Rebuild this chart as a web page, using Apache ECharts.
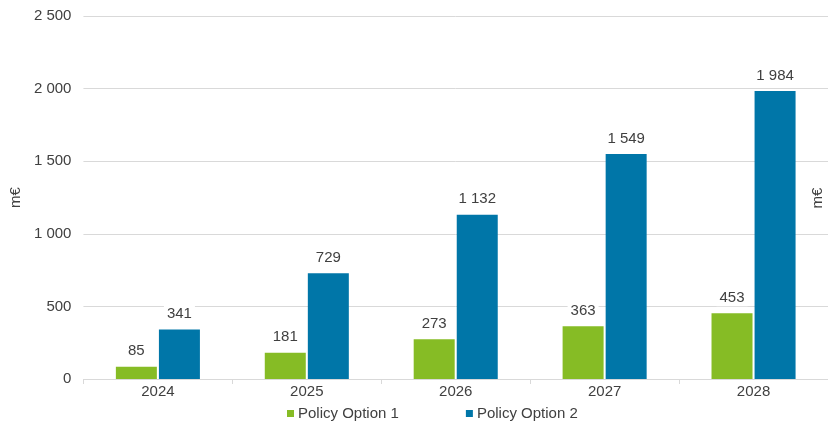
<!DOCTYPE html>
<html>
<head>
<meta charset="utf-8">
<script src="https://cdn.jsdelivr.net/npm/echarts@6/dist/echarts.min.js"></script>
<style>
  html, body { margin: 0; padding: 0; background: #fff; }
  #chart { width: 828px; height: 425px; }
</style>
</head>
<body>
<div id="chart"></div>
<script>
// Annual cost by policy option, in millions of euro
const years = ['2024', '2025', '2026', '2027', '2028'];
const option1 = [85, 181, 273, 363, 453];
const option2 = [341, 729, 1132, 1549, 1984];
const seriesNames = ['Policy Option 1', 'Policy Option 2'];
const unitLabel = 'm€';

const FONT = '"Liberation Sans", Arial, sans-serif';
const TEXT = '#404040';
const GRID = '#d9d9d9';

// Thousands separated by a space: 1984 -> "1 984"
function fmt(v) {
  return String(Math.round(v)).replace(/\B(?=(\d{3})+(?!\d))/g, ' ');
}

const labelStyle = {
  show: true,
  position: 'top',
  distance: 7,
  formatter: p => fmt(p.value),
  fontFamily: FONT,
  fontSize: 15,
  color: TEXT,
  backgroundColor: '#fff',
  padding: [1, 3]
};

const chart = echarts.init(document.getElementById('chart'), null, { renderer: 'canvas' });
chart.setOption({
  animation: false,
  textStyle: { fontFamily: FONT },
  grid: { left: 80, right: 0, top: 16, bottom: 46 },
  legend: {
    data: seriesNames,
    bottom: 4,
    left: 287,
    padding: 0,
    itemWidth: 7,
    itemHeight: 7,
    itemGap: 67,
    icon: 'rect',
    textStyle: { fontFamily: FONT, fontSize: 15, color: TEXT, padding: [0, 0, 0, -1] }
  },
  xAxis: {
    type: 'category',
    data: years,
    axisLine: { lineStyle: { color: GRID } },
    axisTick: { show: true, length: 5, lineStyle: { color: GRID } },
    axisLabel: { fontFamily: FONT, fontSize: 15, color: TEXT, margin: 5 }
  },
  yAxis: {
    type: 'value',
    min: 0,
    max: 2500,
    interval: 500,
    name: unitLabel,
    nameLocation: 'middle',
    nameGap: 55,
    nameRotate: 90,
    nameTextStyle: { fontFamily: FONT, fontSize: 15, color: TEXT },
    axisLine: { show: false },
    axisTick: { show: false },
    axisLabel: { fontFamily: FONT, fontSize: 15, color: TEXT, margin: 12, formatter: v => fmt(v) },
    splitLine: { lineStyle: { color: GRID } }
  },
  graphic: [{
    type: 'text',
    x: 818,
    y: 198,
    rotation: Math.PI / 2,
    style: { text: unitLabel, font: '15px ' + FONT, fill: TEXT, align: 'center', verticalAlign: 'middle' }
  }],
  series: [
    {
      name: seriesNames[0],
      type: 'bar',
      data: option1,
      barWidth: 41,
      barGap: '5%',
      itemStyle: { color: '#86bc25' },
      label: labelStyle
    },
    {
      name: seriesNames[1],
      type: 'bar',
      data: option2,
      barWidth: 41,
      barGap: '5%',
      itemStyle: { color: '#0076a8' },
      label: labelStyle
    }
  ]
});
</script>
</body>
</html>
